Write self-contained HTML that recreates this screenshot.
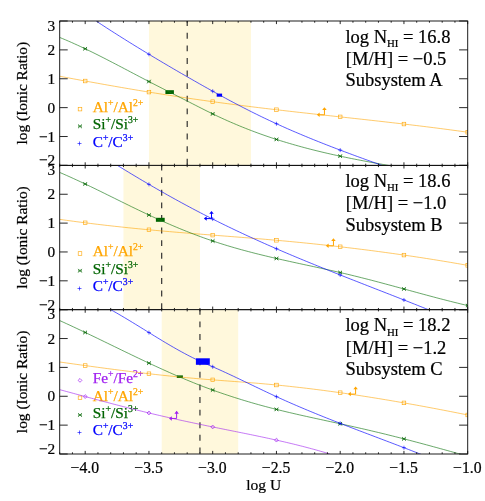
<!DOCTYPE html>
<html><head><meta charset="utf-8"><title>Ionic ratios</title>
<style>html,body{margin:0;padding:0;background:#fff;}svg{display:block;will-change:transform;}text{paint-order:stroke fill;}body{font-family:"Liberation Serif",serif;}</style></head>
<body>
<svg width="485" height="501" viewBox="0 0 485 501" font-family="'Liberation Serif', serif">
<rect width="485" height="501" fill="#ffffff"/>
<defs>
<clipPath id="cp0"><rect x="59.7" y="21.0" width="408.0" height="144.4"/></clipPath>
<clipPath id="cp1"><rect x="59.7" y="165.4" width="408.0" height="144.27"/></clipPath>
<clipPath id="cp2"><rect x="59.7" y="309.67" width="408.0" height="144.32999999999998"/></clipPath>
</defs>
<rect x="148.95" y="21.00" width="102.00" height="144.40" fill="#fff8dc"/>
<line x1="187.20" y1="21.00" x2="187.20" y2="165.40" stroke="#262626" stroke-width="1.12" stroke-dasharray="5.9 6.7" stroke-dashoffset="0.8"/>
<rect x="78.20" y="107.30" width="3.60" height="3.60" fill="none" stroke="#ffa500" stroke-width="0.62"/>
<text x="92.7" y="112.00" font-size="15.3" fill="#ffa500" stroke="#ffa500" stroke-width="0.25">Al<tspan font-size="9.7" dy="-6.1">+</tspan><tspan dy="6.1">/Al</tspan><tspan font-size="9.7" dy="-6.1">2+</tspan></text>
<path d="M78.20 124.50L81.80 128.10L81.80 124.50L78.20 128.10Z" fill="#006400" fill-opacity="0.55" stroke="none"/><path d="M78.20 124.50L81.80 128.10M81.80 124.50L78.20 128.10" stroke="#006400" stroke-width="0.7" fill="none"/>
<text x="92.7" y="129.40" font-size="15.3" fill="#006400" stroke="#006400" stroke-width="0.25">Si<tspan font-size="9.7" dy="-6.1">+</tspan><tspan dy="6.1">/Si</tspan><tspan font-size="9.7" dy="-6.1">3+</tspan></text>
<path d="M77.50 143.50L81.50 143.50M79.50 141.50L79.50 145.50" stroke="#0000ff" stroke-width="0.6" fill="none"/>
<text x="92.7" y="146.70" font-size="15.3" fill="#0000ff" stroke="#0000ff" stroke-width="0.25">C<tspan font-size="9.7" dy="-6.1">+</tspan><tspan dy="6.1">/C</tspan><tspan font-size="9.7" dy="-6.1">3+</tspan></text>
<rect x="165.40" y="90.20" width="8.50" height="3.80" fill="#006400"/>
<rect x="216.70" y="93.60" width="5.40" height="3.10" fill="#0000ff"/>
<g clip-path="url(#cp0)">
<path d="M59.70 76.26L63.13 76.91L66.56 77.56L69.99 78.20L73.41 78.84L76.84 79.47L80.27 80.11L83.70 80.74L87.13 81.37L90.56 81.99L93.99 82.61L97.41 83.23L100.84 83.85L104.27 84.46L107.70 85.07L111.13 85.67L114.56 86.27L117.99 86.87L121.41 87.46L124.84 88.05L128.27 88.64L131.70 89.22L135.13 89.80L138.56 90.38L141.99 90.95L145.41 91.51L148.84 92.07L152.27 92.63L155.70 93.18L159.13 93.73L162.56 94.28L165.99 94.82L169.41 95.35L172.84 95.88L176.27 96.41L179.70 96.93L183.13 97.44L186.56 97.95L189.99 98.46L193.41 98.96L196.84 99.46L200.27 99.95L203.70 100.43L207.13 100.91L210.56 101.39L213.99 101.86L217.41 102.33L220.84 102.79L224.27 103.25L227.70 103.70L231.13 104.15L234.56 104.60L237.99 105.04L241.41 105.48L244.84 105.91L248.27 106.34L251.70 106.77L255.13 107.19L258.56 107.61L261.99 108.03L265.41 108.44L268.84 108.85L272.27 109.25L275.70 109.66L279.13 110.06L282.56 110.45L285.99 110.85L289.41 111.24L292.84 111.63L296.27 112.02L299.70 112.41L303.13 112.79L306.56 113.17L309.99 113.56L313.41 113.94L316.84 114.31L320.27 114.69L323.70 115.07L327.13 115.45L330.56 115.82L333.99 116.20L337.41 116.58L340.84 116.95L344.27 117.33L347.70 117.70L351.13 118.08L354.56 118.46L357.99 118.83L361.41 119.21L364.84 119.59L368.27 119.97L371.70 120.36L375.13 120.74L378.56 121.13L381.99 121.51L385.41 121.90L388.84 122.30L392.27 122.69L395.70 123.09L399.13 123.48L402.56 123.89L405.99 124.29L409.41 124.70L412.84 125.11L416.27 125.52L419.70 125.94L423.13 126.36L426.56 126.79L429.99 127.22L433.41 127.65L436.84 128.09L440.27 128.53L443.70 128.98L447.13 129.43L450.56 129.88L453.99 130.35L457.41 130.81L460.84 131.28L464.27 131.76L467.70 132.24" fill="none" stroke="#ffa500" stroke-width="0.58"/>
<rect x="83.40" y="79.21" width="3.60" height="3.60" fill="none" stroke="#ffa500" stroke-width="0.62"/>
<rect x="147.15" y="90.29" width="3.60" height="3.60" fill="none" stroke="#ffa500" stroke-width="0.62"/>
<rect x="210.90" y="99.88" width="3.60" height="3.60" fill="none" stroke="#ffa500" stroke-width="0.62"/>
<rect x="274.65" y="107.94" width="3.60" height="3.60" fill="none" stroke="#ffa500" stroke-width="0.62"/>
<rect x="338.40" y="115.08" width="3.60" height="3.60" fill="none" stroke="#ffa500" stroke-width="0.62"/>
<rect x="402.15" y="122.25" width="3.60" height="3.60" fill="none" stroke="#ffa500" stroke-width="0.62"/>
<rect x="465.90" y="130.44" width="3.60" height="3.60" fill="none" stroke="#ffa500" stroke-width="0.62"/>
<path d="M59.70 37.44L62.65 38.65L65.59 39.89L68.54 41.16L71.49 42.45L74.43 43.77L77.38 45.12L80.33 46.48L83.27 47.87L86.22 49.27L89.16 50.69L92.11 52.13L95.06 53.59L98.00 55.06L100.95 56.55L103.90 58.04L106.84 59.55L109.79 61.07L112.74 62.60L115.68 64.13L118.63 65.67L121.58 67.21L124.52 68.76L127.47 70.31L130.41 71.86L133.36 73.41L136.31 74.96L139.25 76.51L142.20 78.05L145.15 79.58L148.09 81.11L151.04 82.64L153.99 84.15L156.93 85.66L159.88 87.17L162.82 88.67L165.77 90.16L168.72 91.66L171.66 93.15L174.61 94.64L177.56 96.13L180.50 97.63L183.45 99.13L186.40 100.63L189.34 102.13L192.29 103.64L195.24 105.15L198.18 106.65L201.13 108.15L204.07 109.64L207.02 111.11L209.97 112.56L212.91 114.00L215.86 115.41L218.81 116.80L221.75 118.16L224.70 119.50L227.65 120.82L230.59 122.11L233.54 123.39L236.49 124.64L239.43 125.86L242.38 127.07L245.33 128.25L248.27 129.41L251.22 130.55L254.16 131.66L257.11 132.76L260.06 133.83L263.00 134.88L265.95 135.91L268.90 136.92L271.84 137.91L274.79 138.88L277.74 139.83L280.68 140.77L283.63 141.68L286.57 142.57L289.52 143.45L292.47 144.31L295.41 145.15L298.36 145.98L301.31 146.79L304.25 147.58L307.20 148.36L310.15 149.13L313.09 149.88L316.04 150.61L318.99 151.34L321.93 152.05L324.88 152.74L327.82 153.43L330.77 154.10L333.72 154.76L336.66 155.41L339.61 156.04L342.56 156.67L345.50 157.29L348.45 157.90L351.40 158.50L354.34 159.09L357.29 159.67L360.24 160.24L363.18 160.81L366.13 161.37L369.07 161.92L372.02 162.47L374.97 163.01L377.91 163.54L380.86 164.07L383.81 164.60L386.75 165.12L389.70 165.64L392.65 166.15L395.59 166.66L398.54 167.17L401.49 167.67L404.43 168.18L407.38 168.68L410.32 169.18" fill="none" stroke="#1a7a1a" stroke-width="0.65"/>
<path d="M83.40 46.98L87.00 50.58L87.00 46.98L83.40 50.58Z" fill="#006400" fill-opacity="0.55" stroke="none"/><path d="M83.40 46.98L87.00 50.58M87.00 46.98L83.40 50.58" stroke="#006400" stroke-width="0.7" fill="none"/>
<path d="M147.15 79.76L150.75 83.36L150.75 79.76L147.15 83.36Z" fill="#006400" fill-opacity="0.55" stroke="none"/><path d="M147.15 79.76L150.75 83.36M150.75 79.76L147.15 83.36" stroke="#006400" stroke-width="0.7" fill="none"/>
<path d="M210.90 112.09L214.50 115.69L214.50 112.09L210.90 115.69Z" fill="#006400" fill-opacity="0.55" stroke="none"/><path d="M210.90 112.09L214.50 115.69M214.50 112.09L210.90 115.69" stroke="#006400" stroke-width="0.7" fill="none"/>
<path d="M274.65 137.62L278.25 141.22L278.25 137.62L274.65 141.22Z" fill="#006400" fill-opacity="0.55" stroke="none"/><path d="M274.65 137.62L278.25 141.22M278.25 137.62L274.65 141.22" stroke="#006400" stroke-width="0.7" fill="none"/>
<path d="M338.40 154.37L342.00 157.97L342.00 154.37L338.40 157.97Z" fill="#006400" fill-opacity="0.55" stroke="none"/><path d="M338.40 154.37L342.00 157.97M342.00 154.37L338.40 157.97" stroke="#006400" stroke-width="0.7" fill="none"/>
<path d="M96.17 21.04L98.75 22.74L101.34 24.44L103.92 26.12L106.51 27.80L109.10 29.47L111.68 31.13L114.27 32.78L116.86 34.43L119.44 36.07L122.03 37.70L124.62 39.32L127.20 40.94L129.79 42.55L132.38 44.15L134.96 45.75L137.55 47.34L140.13 48.92L142.72 50.50L145.31 52.07L147.89 53.64L150.48 55.20L153.07 56.75L155.65 58.30L158.24 59.84L160.83 61.38L163.41 62.91L166.00 64.44L168.59 65.96L171.17 67.47L173.76 68.99L176.34 70.49L178.93 72.00L181.52 73.50L184.10 74.99L186.69 76.48L189.28 77.97L191.86 79.45L194.45 80.93L197.04 82.40L199.62 83.87L202.21 85.34L204.79 86.79L207.38 88.24L209.97 89.69L212.55 91.13L215.14 92.56L217.73 93.99L220.31 95.40L222.90 96.81L225.49 98.21L228.07 99.61L230.66 100.99L233.25 102.36L235.83 103.73L238.42 105.09L241.00 106.43L243.59 107.77L246.18 109.09L248.76 110.41L251.35 111.71L253.94 113.00L256.52 114.28L259.11 115.55L261.70 116.81L264.28 118.05L266.87 119.28L269.46 120.50L272.04 121.71L274.63 122.90L277.21 124.09L279.80 125.26L282.39 126.42L284.97 127.57L287.56 128.72L290.15 129.85L292.73 130.97L295.32 132.08L297.91 133.18L300.49 134.28L303.08 135.36L305.67 136.44L308.25 137.51L310.84 138.57L313.43 139.62L316.01 140.66L318.60 141.70L321.18 142.73L323.77 143.75L326.36 144.77L328.94 145.77L331.53 146.78L334.12 147.77L336.70 148.76L339.29 149.75L341.88 150.73L344.46 151.70L347.05 152.67L349.63 153.63L352.22 154.59L354.81 155.55L357.39 156.50L359.98 157.45L362.57 158.39L365.15 159.33L367.74 160.27L370.33 161.20L372.91 162.13L375.50 163.06L378.09 163.99L380.67 164.91L383.26 165.84L385.84 166.76L388.43 167.68L391.02 168.60L393.60 169.52L396.19 170.43L398.78 171.35L401.36 172.27L403.95 173.19" fill="none" stroke="#0000ff" stroke-width="0.65"/>
<path d="M146.95 54.27L150.95 54.27M148.95 52.27L148.95 56.27" stroke="#0000ff" stroke-width="0.6" fill="none"/>
<path d="M210.70 91.21L214.70 91.21M212.70 89.21L212.70 93.21" stroke="#0000ff" stroke-width="0.6" fill="none"/>
<path d="M274.45 123.74L278.45 123.74M276.45 121.74L276.45 125.74" stroke="#0000ff" stroke-width="0.6" fill="none"/>
<path d="M338.20 150.09L342.20 150.09M340.20 148.09L340.20 152.09" stroke="#0000ff" stroke-width="0.6" fill="none"/>
</g>
<path d="M317.85 114.85L324.45 114.85L324.45 108.25" stroke="#ffa500" stroke-width="1.0" fill="none"/><path d="M316.85 114.85L319.65 112.60L319.65 117.10Z" fill="#ffa500"/><path d="M324.45 107.25L322.20 110.05L326.70 110.05Z" fill="#ffa500"/>
<rect x="59.70" y="21.00" width="408.00" height="144.40" fill="none" stroke="#111111" stroke-width="0.95"/>
<path d="M59.70 21.00v1.7M59.70 165.40v-1.7M72.45 21.00v1.7M72.45 165.40v-1.7M85.20 21.00v3.1M85.20 165.40v-3.1M97.95 21.00v1.7M97.95 165.40v-1.7M110.70 21.00v1.7M110.70 165.40v-1.7M123.45 21.00v1.7M123.45 165.40v-1.7M136.20 21.00v1.7M136.20 165.40v-1.7M148.95 21.00v3.1M148.95 165.40v-3.1M161.70 21.00v1.7M161.70 165.40v-1.7M174.45 21.00v1.7M174.45 165.40v-1.7M187.20 21.00v1.7M187.20 165.40v-1.7M199.95 21.00v1.7M199.95 165.40v-1.7M212.70 21.00v3.1M212.70 165.40v-3.1M225.45 21.00v1.7M225.45 165.40v-1.7M238.20 21.00v1.7M238.20 165.40v-1.7M250.95 21.00v1.7M250.95 165.40v-1.7M263.70 21.00v1.7M263.70 165.40v-1.7M276.45 21.00v3.1M276.45 165.40v-3.1M289.20 21.00v1.7M289.20 165.40v-1.7M301.95 21.00v1.7M301.95 165.40v-1.7M314.70 21.00v1.7M314.70 165.40v-1.7M327.45 21.00v1.7M327.45 165.40v-1.7M340.20 21.00v3.1M340.20 165.40v-3.1M352.95 21.00v1.7M352.95 165.40v-1.7M365.70 21.00v1.7M365.70 165.40v-1.7M378.45 21.00v1.7M378.45 165.40v-1.7M391.20 21.00v1.7M391.20 165.40v-1.7M403.95 21.00v3.1M403.95 165.40v-3.1M416.70 21.00v1.7M416.70 165.40v-1.7M429.45 21.00v1.7M429.45 165.40v-1.7M442.20 21.00v1.7M442.20 165.40v-1.7M454.95 21.00v1.7M454.95 165.40v-1.7M467.70 21.00v3.1M467.70 165.40v-3.1M59.70 165.40h8.0M467.70 165.40h-8.6M59.70 136.52h8.0M467.70 136.52h-8.6M59.70 107.64h8.0M467.70 107.64h-8.6M59.70 78.76h8.0M467.70 78.76h-8.6M59.70 49.88h8.0M467.70 49.88h-8.6M59.70 21.00h8.0M467.70 21.00h-8.6" stroke="#111111" stroke-width="0.9" fill="none"/>
<text x="55.2" y="165.30" font-size="15.3" text-anchor="end" fill="#000" stroke="#000" stroke-width="0.22">−2</text>
<text x="55.2" y="141.52" font-size="15.3" text-anchor="end" fill="#000" stroke="#000" stroke-width="0.22">−1</text>
<text x="55.2" y="112.64" font-size="15.3" text-anchor="end" fill="#000" stroke="#000" stroke-width="0.22">0</text>
<text x="55.2" y="83.76" font-size="15.3" text-anchor="end" fill="#000" stroke="#000" stroke-width="0.22">1</text>
<text x="55.2" y="54.88" font-size="15.3" text-anchor="end" fill="#000" stroke="#000" stroke-width="0.22">2</text>
<text x="55.2" y="30.70" font-size="15.3" text-anchor="end" fill="#000" stroke="#000" stroke-width="0.22">3</text>
<text transform="translate(27 93.20) rotate(-90)" font-size="15.4" text-anchor="middle" fill="#000" stroke="#000" stroke-width="0.22">log (Ionic Ratio)</text>
<text x="345.4" y="42.80" font-size="18.5" fill="#000" stroke="#000" stroke-width="0.22">log N<tspan font-size="10.8" dy="4.2">HI</tspan><tspan dy="-4.2"> = 16.8</tspan></text>
<text x="345.8" y="64.90" font-size="18.5" fill="#000" stroke="#000" stroke-width="0.22">[M/H] = −0.5</text>
<text x="345.4" y="86.10" font-size="18.5" fill="#000" stroke="#000" stroke-width="0.22">Subsystem A</text>
<rect x="123.45" y="165.40" width="76.50" height="144.27" fill="#fff8dc"/>
<line x1="161.70" y1="165.40" x2="161.70" y2="309.67" stroke="#262626" stroke-width="1.12" stroke-dasharray="5.9 6.7" stroke-dashoffset="0.8"/>
<rect x="78.20" y="251.70" width="3.60" height="3.60" fill="none" stroke="#ffa500" stroke-width="0.62"/>
<text x="92.7" y="256.40" font-size="15.3" fill="#ffa500" stroke="#ffa500" stroke-width="0.25">Al<tspan font-size="9.7" dy="-6.1">+</tspan><tspan dy="6.1">/Al</tspan><tspan font-size="9.7" dy="-6.1">2+</tspan></text>
<path d="M78.20 268.90L81.80 272.50L81.80 268.90L78.20 272.50Z" fill="#006400" fill-opacity="0.55" stroke="none"/><path d="M78.20 268.90L81.80 272.50M81.80 268.90L78.20 272.50" stroke="#006400" stroke-width="0.7" fill="none"/>
<text x="92.7" y="273.80" font-size="15.3" fill="#006400" stroke="#006400" stroke-width="0.25">Si<tspan font-size="9.7" dy="-6.1">+</tspan><tspan dy="6.1">/Si</tspan><tspan font-size="9.7" dy="-6.1">3+</tspan></text>
<path d="M77.50 288.50L81.50 288.50M79.50 286.50L79.50 290.50" stroke="#0000ff" stroke-width="0.6" fill="none"/>
<text x="92.7" y="291.10" font-size="15.3" fill="#0000ff" stroke="#0000ff" stroke-width="0.25">C<tspan font-size="9.7" dy="-6.1">+</tspan><tspan dy="6.1">/C</tspan><tspan font-size="9.7" dy="-6.1">3+</tspan></text>
<rect x="155.90" y="217.80" width="8.80" height="4.00" fill="#006400"/>
<g clip-path="url(#cp1)">
<path d="M59.70 219.37L63.13 219.86L66.56 220.33L69.99 220.80L73.41 221.26L76.84 221.72L80.27 222.16L83.70 222.60L87.13 223.04L90.56 223.46L93.99 223.88L97.41 224.30L100.84 224.70L104.27 225.11L107.70 225.50L111.13 225.89L114.56 226.27L117.99 226.64L121.41 227.01L124.84 227.38L128.27 227.74L131.70 228.09L135.13 228.44L138.56 228.78L141.99 229.11L145.41 229.45L148.84 229.77L152.27 230.09L155.70 230.41L159.13 230.72L162.56 231.03L165.99 231.33L169.41 231.62L172.84 231.92L176.27 232.21L179.70 232.49L183.13 232.78L186.56 233.05L189.99 233.33L193.41 233.61L196.84 233.88L200.27 234.15L203.70 234.42L207.13 234.69L210.56 234.95L213.99 235.22L217.41 235.49L220.84 235.75L224.27 236.02L227.70 236.28L231.13 236.55L234.56 236.82L237.99 237.09L241.41 237.36L244.84 237.63L248.27 237.90L251.70 238.18L255.13 238.46L258.56 238.74L261.99 239.03L265.41 239.32L268.84 239.61L272.27 239.91L275.70 240.21L279.13 240.52L282.56 240.83L285.99 241.14L289.41 241.46L292.84 241.79L296.27 242.12L299.70 242.45L303.13 242.79L306.56 243.13L309.99 243.48L313.41 243.84L316.84 244.20L320.27 244.56L323.70 244.93L327.13 245.30L330.56 245.68L333.99 246.07L337.41 246.46L340.84 246.85L344.27 247.25L347.70 247.66L351.13 248.07L354.56 248.48L357.99 248.91L361.41 249.33L364.84 249.76L368.27 250.20L371.70 250.64L375.13 251.09L378.56 251.55L381.99 252.00L385.41 252.47L388.84 252.94L392.27 253.42L395.70 253.90L399.13 254.38L402.56 254.88L405.99 255.38L409.41 255.88L412.84 256.39L416.27 256.91L419.70 257.43L423.13 257.95L426.56 258.49L429.99 259.03L433.41 259.57L436.84 260.12L440.27 260.68L443.70 261.24L447.13 261.81L450.56 262.39L453.99 262.97L457.41 263.56L460.84 264.15L464.27 264.75L467.70 265.36" fill="none" stroke="#ffa500" stroke-width="0.58"/>
<rect x="83.40" y="220.99" width="3.60" height="3.60" fill="none" stroke="#ffa500" stroke-width="0.62"/>
<rect x="147.15" y="227.98" width="3.60" height="3.60" fill="none" stroke="#ffa500" stroke-width="0.62"/>
<rect x="210.90" y="233.32" width="3.60" height="3.60" fill="none" stroke="#ffa500" stroke-width="0.62"/>
<rect x="274.65" y="238.48" width="3.60" height="3.60" fill="none" stroke="#ffa500" stroke-width="0.62"/>
<rect x="338.40" y="244.98" width="3.60" height="3.60" fill="none" stroke="#ffa500" stroke-width="0.62"/>
<rect x="402.15" y="253.28" width="3.60" height="3.60" fill="none" stroke="#ffa500" stroke-width="0.62"/>
<rect x="465.90" y="263.56" width="3.60" height="3.60" fill="none" stroke="#ffa500" stroke-width="0.62"/>
<path d="M59.70 172.45L63.13 173.92L66.56 175.42L69.99 176.95L73.41 178.50L76.84 180.08L80.27 181.67L83.70 183.28L87.13 184.91L90.56 186.56L93.99 188.21L97.41 189.88L100.84 191.56L104.27 193.25L107.70 194.94L111.13 196.63L114.56 198.32L117.99 200.02L121.41 201.71L124.84 203.40L128.27 205.09L131.70 206.77L135.13 208.43L138.56 210.09L141.99 211.73L145.41 213.36L148.84 214.97L152.27 216.57L155.70 218.14L159.13 219.69L162.56 221.23L165.99 222.74L169.41 224.23L172.84 225.70L176.27 227.15L179.70 228.57L183.13 229.97L186.56 231.35L189.99 232.70L193.41 234.02L196.84 235.32L200.27 236.59L203.70 237.83L207.13 239.05L210.56 240.24L213.99 241.40L217.41 242.53L220.84 243.63L224.27 244.70L227.70 245.75L231.13 246.77L234.56 247.77L237.99 248.75L241.41 249.71L244.84 250.64L248.27 251.56L251.70 252.45L255.13 253.33L258.56 254.19L261.99 255.04L265.41 255.87L268.84 256.69L272.27 257.50L275.70 258.29L279.13 259.08L282.56 259.85L285.99 260.62L289.41 261.38L292.84 262.14L296.27 262.88L299.70 263.63L303.13 264.37L306.56 265.11L309.99 265.85L313.41 266.59L316.84 267.34L320.27 268.08L323.70 268.83L327.13 269.59L330.56 270.35L333.99 271.12L337.41 271.90L340.84 272.69L344.27 273.50L347.70 274.31L351.13 275.14L354.56 275.97L357.99 276.82L361.41 277.68L364.84 278.55L368.27 279.42L371.70 280.31L375.13 281.21L378.56 282.11L381.99 283.02L385.41 283.94L388.84 284.86L392.27 285.79L395.70 286.72L399.13 287.65L402.56 288.59L405.99 289.53L409.41 290.46L412.84 291.40L416.27 292.33L419.70 293.27L423.13 294.19L426.56 295.12L429.99 296.04L433.41 296.95L436.84 297.86L440.27 298.75L443.70 299.64L447.13 300.52L450.56 301.39L453.99 302.25L457.41 303.09L460.84 303.93L464.27 304.74L467.70 305.55" fill="none" stroke="#1a7a1a" stroke-width="0.65"/>
<path d="M83.40 182.20L87.00 185.80L87.00 182.20L83.40 185.80Z" fill="#006400" fill-opacity="0.55" stroke="none"/><path d="M83.40 182.20L87.00 185.80M87.00 182.20L83.40 185.80" stroke="#006400" stroke-width="0.7" fill="none"/>
<path d="M147.15 213.22L150.75 216.82L150.75 213.22L147.15 216.82Z" fill="#006400" fill-opacity="0.55" stroke="none"/><path d="M147.15 213.22L150.75 216.82M150.75 213.22L147.15 216.82" stroke="#006400" stroke-width="0.7" fill="none"/>
<path d="M210.90 239.16L214.50 242.76L214.50 239.16L210.90 242.76Z" fill="#006400" fill-opacity="0.55" stroke="none"/><path d="M210.90 239.16L214.50 242.76M214.50 239.16L210.90 242.76" stroke="#006400" stroke-width="0.7" fill="none"/>
<path d="M274.65 256.67L278.25 260.27L278.25 256.67L274.65 260.27Z" fill="#006400" fill-opacity="0.55" stroke="none"/><path d="M274.65 256.67L278.25 260.27M278.25 256.67L274.65 260.27" stroke="#006400" stroke-width="0.7" fill="none"/>
<path d="M338.40 270.75L342.00 274.35L342.00 270.75L338.40 274.35Z" fill="#006400" fill-opacity="0.55" stroke="none"/><path d="M338.40 270.75L342.00 274.35M342.00 270.75L338.40 274.35" stroke="#006400" stroke-width="0.7" fill="none"/>
<path d="M402.15 287.17L405.75 290.77L405.75 287.17L402.15 290.77Z" fill="#006400" fill-opacity="0.55" stroke="none"/><path d="M402.15 287.17L405.75 290.77M405.75 287.17L402.15 290.77" stroke="#006400" stroke-width="0.7" fill="none"/>
<path d="M465.90 303.75L469.50 307.35L469.50 303.75L465.90 307.35Z" fill="#006400" fill-opacity="0.55" stroke="none"/><path d="M465.90 303.75L469.50 307.35M469.50 303.75L465.90 307.35" stroke="#006400" stroke-width="0.7" fill="none"/>
<path d="M97.95 153.13L100.73 154.90L103.50 156.66L106.28 158.42L109.06 160.17L111.84 161.91L114.61 163.64L117.39 165.37L120.17 167.08L122.94 168.79L125.72 170.49L128.50 172.18L131.28 173.86L134.05 175.53L136.83 177.20L139.61 178.85L142.38 180.50L145.16 182.14L147.94 183.76L150.72 185.38L153.49 186.99L156.27 188.59L159.05 190.19L161.82 191.77L164.60 193.34L167.38 194.91L170.16 196.46L172.93 198.00L175.71 199.54L178.49 201.07L181.26 202.58L184.04 204.09L186.82 205.58L189.60 207.07L192.37 208.55L195.15 210.02L197.93 211.47L200.70 212.92L203.48 214.36L206.26 215.78L209.04 217.20L211.81 218.61L214.59 220.00L217.37 221.39L220.14 222.76L222.92 224.13L225.70 225.49L228.48 226.83L231.25 228.17L234.03 229.50L236.81 230.82L239.58 232.13L242.36 233.43L245.14 234.72L247.92 236.00L250.69 237.28L253.47 238.55L256.25 239.81L259.02 241.06L261.80 242.30L264.58 243.54L267.36 244.77L270.13 245.99L272.91 247.20L275.69 248.41L278.46 249.61L281.24 250.81L284.02 252.00L286.80 253.18L289.57 254.36L292.35 255.53L295.13 256.69L297.90 257.85L300.68 259.00L303.46 260.15L306.24 261.30L309.01 262.44L311.79 263.57L314.57 264.70L317.34 265.83L320.12 266.95L322.90 268.07L325.68 269.19L328.45 270.30L331.23 271.41L334.01 272.52L336.78 273.62L339.56 274.72L342.34 275.82L345.12 276.92L347.89 278.01L350.67 279.10L353.45 280.19L356.22 281.28L359.00 282.37L361.78 283.46L364.56 284.54L367.33 285.63L370.11 286.71L372.89 287.80L375.66 288.88L378.44 289.97L381.22 291.05L384.00 292.14L386.77 293.22L389.55 294.31L392.33 295.40L395.10 296.48L397.88 297.57L400.66 298.66L403.44 299.76L406.21 300.85L408.99 301.95L411.77 303.05L414.54 304.15L417.32 305.25L420.10 306.36L422.88 307.47L425.65 308.58L428.43 309.70" fill="none" stroke="#0000ff" stroke-width="0.65"/>
<path d="M146.95 184.36L150.95 184.36M148.95 182.36L148.95 186.36" stroke="#0000ff" stroke-width="0.6" fill="none"/>
<path d="M210.70 219.05L214.70 219.05M212.70 217.05L212.70 221.05" stroke="#0000ff" stroke-width="0.6" fill="none"/>
<path d="M274.45 248.74L278.45 248.74M276.45 246.74L276.45 250.74" stroke="#0000ff" stroke-width="0.6" fill="none"/>
<path d="M338.20 274.98L342.20 274.98M340.20 272.98L340.20 276.98" stroke="#0000ff" stroke-width="0.6" fill="none"/>
<path d="M401.95 299.96L405.95 299.96M403.95 297.96L403.95 301.96" stroke="#0000ff" stroke-width="0.6" fill="none"/>
</g>
<path d="M204.90 218.60L211.50 218.60L211.50 212.00" stroke="#0000ff" stroke-width="1.0" fill="none"/><path d="M203.90 218.60L206.70 216.35L206.70 220.85Z" fill="#0000ff"/><path d="M211.50 211.00L209.25 213.80L213.75 213.80Z" fill="#0000ff"/>
<path d="M326.85 245.85L333.45 245.85L333.45 239.25" stroke="#ffa500" stroke-width="1.0" fill="none"/><path d="M325.85 245.85L328.65 243.60L328.65 248.10Z" fill="#ffa500"/><path d="M333.45 238.25L331.20 241.05L335.70 241.05Z" fill="#ffa500"/>
<rect x="59.70" y="165.40" width="408.00" height="144.27" fill="none" stroke="#111111" stroke-width="0.95"/>
<path d="M59.70 165.40v1.7M59.70 309.67v-1.7M72.45 165.40v1.7M72.45 309.67v-1.7M85.20 165.40v3.1M85.20 309.67v-3.1M97.95 165.40v1.7M97.95 309.67v-1.7M110.70 165.40v1.7M110.70 309.67v-1.7M123.45 165.40v1.7M123.45 309.67v-1.7M136.20 165.40v1.7M136.20 309.67v-1.7M148.95 165.40v3.1M148.95 309.67v-3.1M161.70 165.40v1.7M161.70 309.67v-1.7M174.45 165.40v1.7M174.45 309.67v-1.7M187.20 165.40v1.7M187.20 309.67v-1.7M199.95 165.40v1.7M199.95 309.67v-1.7M212.70 165.40v3.1M212.70 309.67v-3.1M225.45 165.40v1.7M225.45 309.67v-1.7M238.20 165.40v1.7M238.20 309.67v-1.7M250.95 165.40v1.7M250.95 309.67v-1.7M263.70 165.40v1.7M263.70 309.67v-1.7M276.45 165.40v3.1M276.45 309.67v-3.1M289.20 165.40v1.7M289.20 309.67v-1.7M301.95 165.40v1.7M301.95 309.67v-1.7M314.70 165.40v1.7M314.70 309.67v-1.7M327.45 165.40v1.7M327.45 309.67v-1.7M340.20 165.40v3.1M340.20 309.67v-3.1M352.95 165.40v1.7M352.95 309.67v-1.7M365.70 165.40v1.7M365.70 309.67v-1.7M378.45 165.40v1.7M378.45 309.67v-1.7M391.20 165.40v1.7M391.20 309.67v-1.7M403.95 165.40v3.1M403.95 309.67v-3.1M416.70 165.40v1.7M416.70 309.67v-1.7M429.45 165.40v1.7M429.45 309.67v-1.7M442.20 165.40v1.7M442.20 309.67v-1.7M454.95 165.40v1.7M454.95 309.67v-1.7M467.70 165.40v3.1M467.70 309.67v-3.1M59.70 309.67h8.0M467.70 309.67h-8.6M59.70 280.82h8.0M467.70 280.82h-8.6M59.70 251.96h8.0M467.70 251.96h-8.6M59.70 223.11h8.0M467.70 223.11h-8.6M59.70 194.25h8.0M467.70 194.25h-8.6M59.70 165.40h8.0M467.70 165.40h-8.6" stroke="#111111" stroke-width="0.9" fill="none"/>
<text x="55.2" y="309.57" font-size="15.3" text-anchor="end" fill="#000" stroke="#000" stroke-width="0.22">−2</text>
<text x="55.2" y="285.82" font-size="15.3" text-anchor="end" fill="#000" stroke="#000" stroke-width="0.22">−1</text>
<text x="55.2" y="256.96" font-size="15.3" text-anchor="end" fill="#000" stroke="#000" stroke-width="0.22">0</text>
<text x="55.2" y="228.11" font-size="15.3" text-anchor="end" fill="#000" stroke="#000" stroke-width="0.22">1</text>
<text x="55.2" y="199.25" font-size="15.3" text-anchor="end" fill="#000" stroke="#000" stroke-width="0.22">2</text>
<text x="55.2" y="175.10" font-size="15.3" text-anchor="end" fill="#000" stroke="#000" stroke-width="0.22">3</text>
<text transform="translate(27 237.54) rotate(-90)" font-size="15.4" text-anchor="middle" fill="#000" stroke="#000" stroke-width="0.22">log (Ionic Ratio)</text>
<text x="345.4" y="187.20" font-size="18.5" fill="#000" stroke="#000" stroke-width="0.22">log N<tspan font-size="10.8" dy="4.2">HI</tspan><tspan dy="-4.2"> = 18.6</tspan></text>
<text x="345.8" y="209.30" font-size="18.5" fill="#000" stroke="#000" stroke-width="0.22">[M/H] = −1.0</text>
<text x="345.4" y="230.50" font-size="18.5" fill="#000" stroke="#000" stroke-width="0.22">Subsystem B</text>
<rect x="161.70" y="309.67" width="76.50" height="144.33" fill="#fff8dc"/>
<line x1="199.95" y1="309.67" x2="199.95" y2="454.00" stroke="#262626" stroke-width="1.12" stroke-dasharray="5.9 6.7" stroke-dashoffset="0.8"/>
<path d="M78.10 380.37L80.00 378.47L81.90 380.37L80.00 382.27Z" stroke="#a020f0" stroke-width="0.7" fill="none"/>
<text x="92.7" y="382.97" font-size="15.3" fill="#a020f0" stroke="#a020f0" stroke-width="0.25">Fe<tspan font-size="9.7" dy="-6.1">+</tspan><tspan dy="6.1">/Fe</tspan><tspan font-size="9.7" dy="-6.1">2+</tspan></text>
<rect x="78.20" y="395.97" width="3.60" height="3.60" fill="none" stroke="#ffa500" stroke-width="0.62"/>
<text x="92.7" y="400.67" font-size="15.3" fill="#ffa500" stroke="#ffa500" stroke-width="0.25">Al<tspan font-size="9.7" dy="-6.1">+</tspan><tspan dy="6.1">/Al</tspan><tspan font-size="9.7" dy="-6.1">2+</tspan></text>
<path d="M78.20 413.17L81.80 416.77L81.80 413.17L78.20 416.77Z" fill="#006400" fill-opacity="0.55" stroke="none"/><path d="M78.20 413.17L81.80 416.77M81.80 413.17L78.20 416.77" stroke="#006400" stroke-width="0.7" fill="none"/>
<text x="92.7" y="418.07" font-size="15.3" fill="#006400" stroke="#006400" stroke-width="0.25">Si<tspan font-size="9.7" dy="-6.1">+</tspan><tspan dy="6.1">/Si</tspan><tspan font-size="9.7" dy="-6.1">3+</tspan></text>
<path d="M77.50 432.50L81.50 432.50M79.50 430.50L79.50 434.50" stroke="#0000ff" stroke-width="0.6" fill="none"/>
<text x="92.7" y="435.37" font-size="15.3" fill="#0000ff" stroke="#0000ff" stroke-width="0.25">C<tspan font-size="9.7" dy="-6.1">+</tspan><tspan dy="6.1">/C</tspan><tspan font-size="9.7" dy="-6.1">3+</tspan></text>
<rect x="176.80" y="375.40" width="6.10" height="2.60" fill="#006400"/>
<rect x="195.90" y="358.30" width="13.90" height="6.50" fill="#0000ff"/>
<g clip-path="url(#cp2)">
<path d="M59.70 389.66L61.97 390.28L64.24 390.89L66.51 391.50L68.78 392.12L71.05 392.73L73.32 393.35L75.59 393.96L77.85 394.57L80.12 395.19L82.39 395.80L84.66 396.41L86.93 397.02L89.20 397.63L91.47 398.24L93.74 398.85L96.01 399.46L98.28 400.06L100.55 400.66L102.82 401.27L105.09 401.87L107.36 402.47L109.62 403.06L111.89 403.66L114.16 404.25L116.43 404.84L118.70 405.43L120.97 406.01L123.24 406.59L125.51 407.17L127.78 407.75L130.05 408.33L132.32 408.90L134.59 409.46L136.86 410.03L139.12 410.59L141.39 411.15L143.66 411.70L145.93 412.25L148.20 412.80L150.47 413.34L152.74 413.88L155.01 414.42L157.28 414.95L159.55 415.47L161.82 416.00L164.09 416.52L166.36 417.04L168.63 417.55L170.90 418.06L173.16 418.57L175.43 419.07L177.70 419.57L179.97 420.07L182.24 420.56L184.51 421.05L186.78 421.54L189.05 422.03L191.32 422.51L193.59 422.99L195.86 423.47L198.13 423.95L200.40 424.42L202.67 424.89L204.93 425.36L207.20 425.83L209.47 426.30L211.74 426.76L214.01 427.22L216.28 427.68L218.55 428.14L220.82 428.60L223.09 429.06L225.36 429.51L227.63 429.97L229.90 430.42L232.17 430.88L234.44 431.33L236.70 431.79L238.97 432.25L241.24 432.71L243.51 433.16L245.78 433.63L248.05 434.09L250.32 434.55L252.59 435.02L254.86 435.49L257.13 435.96L259.40 436.44L261.67 436.91L263.94 437.39L266.21 437.88L268.47 438.37L270.74 438.86L273.01 439.36L275.28 439.86L277.55 440.37L279.82 440.88L282.09 441.40L284.36 441.92L286.63 442.45L288.90 442.99L291.17 443.53L293.44 444.08L295.71 444.64L297.98 445.20L300.24 445.77L302.51 446.34L304.78 446.93L307.05 447.52L309.32 448.13L311.59 448.74L313.86 449.35L316.13 449.98L318.40 450.62L320.67 451.27L322.94 451.92L325.21 452.59L327.48 453.27L329.75 453.95" fill="none" stroke="#a020f0" stroke-width="0.6"/>
<path d="M83.30 396.56L85.20 394.66L87.10 396.56L85.20 398.46Z" stroke="#a020f0" stroke-width="0.7" fill="none"/>
<path d="M147.05 412.98L148.95 411.08L150.85 412.98L148.95 414.88Z" stroke="#a020f0" stroke-width="0.7" fill="none"/>
<path d="M210.80 426.96L212.70 425.06L214.60 426.96L212.70 428.86Z" stroke="#a020f0" stroke-width="0.7" fill="none"/>
<path d="M274.55 440.12L276.45 438.22L278.35 440.12L276.45 442.02Z" stroke="#a020f0" stroke-width="0.7" fill="none"/>
<path d="M59.70 362.00L63.13 362.48L66.56 362.97L69.99 363.45L73.41 363.93L76.84 364.41L80.27 364.89L83.70 365.37L87.13 365.84L90.56 366.31L93.99 366.78L97.41 367.24L100.84 367.70L104.27 368.16L107.70 368.61L111.13 369.06L114.56 369.51L117.99 369.95L121.41 370.39L124.84 370.83L128.27 371.25L131.70 371.68L135.13 372.10L138.56 372.51L141.99 372.92L145.41 373.32L148.84 373.72L152.27 374.11L155.70 374.50L159.13 374.88L162.56 375.25L165.99 375.62L169.41 375.98L172.84 376.33L176.27 376.68L179.70 377.01L183.13 377.35L186.56 377.67L189.99 377.98L193.41 378.29L196.84 378.59L200.27 378.88L203.70 379.16L207.13 379.44L210.56 379.71L213.99 379.97L217.41 380.23L220.84 380.49L224.27 380.74L227.70 380.99L231.13 381.24L234.56 381.50L237.99 381.75L241.41 382.01L244.84 382.27L248.27 382.53L251.70 382.80L255.13 383.08L258.56 383.37L261.99 383.66L265.41 383.97L268.84 384.28L272.27 384.60L275.70 384.93L279.13 385.27L282.56 385.62L285.99 385.98L289.41 386.34L292.84 386.72L296.27 387.10L299.70 387.49L303.13 387.89L306.56 388.30L309.99 388.71L313.41 389.14L316.84 389.57L320.27 390.01L323.70 390.45L327.13 390.91L330.56 391.37L333.99 391.84L337.41 392.32L340.84 392.80L344.27 393.29L347.70 393.79L351.13 394.29L354.56 394.81L357.99 395.32L361.41 395.85L364.84 396.38L368.27 396.92L371.70 397.47L375.13 398.02L378.56 398.57L381.99 399.14L385.41 399.71L388.84 400.28L392.27 400.87L395.70 401.45L399.13 402.05L402.56 402.64L405.99 403.25L409.41 403.86L412.84 404.47L416.27 405.09L419.70 405.72L423.13 406.35L426.56 406.99L429.99 407.63L433.41 408.27L436.84 408.92L440.27 409.58L443.70 410.24L447.13 410.90L450.56 411.57L453.99 412.24L457.41 412.92L460.84 413.60L464.27 414.28L467.70 414.97" fill="none" stroke="#ffa500" stroke-width="0.58"/>
<rect x="83.40" y="363.77" width="3.60" height="3.60" fill="none" stroke="#ffa500" stroke-width="0.62"/>
<rect x="147.15" y="371.93" width="3.60" height="3.60" fill="none" stroke="#ffa500" stroke-width="0.62"/>
<rect x="210.90" y="378.07" width="3.60" height="3.60" fill="none" stroke="#ffa500" stroke-width="0.62"/>
<rect x="274.65" y="383.21" width="3.60" height="3.60" fill="none" stroke="#ffa500" stroke-width="0.62"/>
<rect x="338.40" y="390.91" width="3.60" height="3.60" fill="none" stroke="#ffa500" stroke-width="0.62"/>
<rect x="402.15" y="401.09" width="3.60" height="3.60" fill="none" stroke="#ffa500" stroke-width="0.62"/>
<rect x="465.90" y="413.17" width="3.60" height="3.60" fill="none" stroke="#ffa500" stroke-width="0.62"/>
<path d="M59.70 320.57L63.13 322.13L66.56 323.70L69.99 325.28L73.41 326.88L76.84 328.49L80.27 330.11L83.70 331.74L87.13 333.38L90.56 335.02L93.99 336.67L97.41 338.32L100.84 339.98L104.27 341.65L107.70 343.31L111.13 344.97L114.56 346.64L117.99 348.30L121.41 349.97L124.84 351.63L128.27 353.28L131.70 354.93L135.13 356.58L138.56 358.22L141.99 359.85L145.41 361.47L148.84 363.08L152.27 364.68L155.70 366.27L159.13 367.84L162.56 369.41L165.99 370.95L169.41 372.49L172.84 374.00L176.27 375.50L179.70 376.97L183.13 378.43L186.56 379.87L189.99 381.29L193.41 382.68L196.84 384.05L200.27 385.39L203.70 386.71L207.13 388.00L210.56 389.27L213.99 390.52L217.41 391.74L220.84 392.93L224.27 394.11L227.70 395.26L231.13 396.38L234.56 397.49L237.99 398.57L241.41 399.64L244.84 400.68L248.27 401.70L251.70 402.71L255.13 403.69L258.56 404.65L261.99 405.60L265.41 406.52L268.84 407.43L272.27 408.33L275.70 409.20L279.13 410.06L282.56 410.90L285.99 411.73L289.41 412.54L292.84 413.34L296.27 414.14L299.70 414.92L303.13 415.69L306.56 416.45L309.99 417.21L313.41 417.96L316.84 418.71L320.27 419.45L323.70 420.20L327.13 420.94L330.56 421.68L333.99 422.42L337.41 423.17L340.84 423.92L344.27 424.67L347.70 425.43L351.13 426.19L354.56 426.96L357.99 427.74L361.41 428.52L364.84 429.31L368.27 430.10L371.70 430.91L375.13 431.72L378.56 432.54L381.99 433.37L385.41 434.21L388.84 435.06L392.27 435.91L395.70 436.77L399.13 437.64L402.56 438.52L405.99 439.40L409.41 440.29L412.84 441.19L416.27 442.10L419.70 443.01L423.13 443.93L426.56 444.85L429.99 445.78L433.41 446.72L436.84 447.65L440.27 448.60L443.70 449.54L447.13 450.49L450.56 451.44L453.99 452.40L457.41 453.36L460.84 454.32L464.27 455.28L467.70 456.24" fill="none" stroke="#1a7a1a" stroke-width="0.65"/>
<path d="M83.40 330.66L87.00 334.26L87.00 330.66L83.40 334.26Z" fill="#006400" fill-opacity="0.55" stroke="none"/><path d="M83.40 330.66L87.00 334.26M87.00 330.66L83.40 334.26" stroke="#006400" stroke-width="0.7" fill="none"/>
<path d="M147.15 361.33L150.75 364.93L150.75 361.33L147.15 364.93Z" fill="#006400" fill-opacity="0.55" stroke="none"/><path d="M147.15 361.33L150.75 364.93M150.75 361.33L147.15 364.93" stroke="#006400" stroke-width="0.7" fill="none"/>
<path d="M210.90 388.25L214.50 391.85L214.50 388.25L210.90 391.85Z" fill="#006400" fill-opacity="0.55" stroke="none"/><path d="M210.90 388.25L214.50 391.85M214.50 388.25L210.90 391.85" stroke="#006400" stroke-width="0.7" fill="none"/>
<path d="M274.65 407.59L278.25 411.19L278.25 407.59L274.65 411.19Z" fill="#006400" fill-opacity="0.55" stroke="none"/><path d="M274.65 407.59L278.25 411.19M278.25 407.59L274.65 411.19" stroke="#006400" stroke-width="0.7" fill="none"/>
<path d="M338.40 421.98L342.00 425.58L342.00 421.98L338.40 425.58Z" fill="#006400" fill-opacity="0.55" stroke="none"/><path d="M338.40 421.98L342.00 425.58M342.00 421.98L338.40 425.58" stroke="#006400" stroke-width="0.7" fill="none"/>
<path d="M402.15 437.08L405.75 440.68L405.75 437.08L402.15 440.68Z" fill="#006400" fill-opacity="0.55" stroke="none"/><path d="M402.15 437.08L405.75 440.68M405.75 437.08L402.15 440.68" stroke="#006400" stroke-width="0.7" fill="none"/>
<path d="M110.70 309.66L113.43 311.19L116.16 312.74L118.90 314.32L121.63 315.92L124.36 317.54L127.09 319.17L129.83 320.82L132.56 322.48L135.29 324.15L138.02 325.82L140.75 327.51L143.49 329.19L146.22 330.88L148.95 332.57L151.68 334.25L154.41 335.93L157.15 337.60L159.88 339.26L162.61 340.91L165.34 342.55L168.08 344.17L170.81 345.77L173.54 347.35L176.27 348.91L179.00 350.45L181.74 351.95L184.47 353.43L187.20 354.88L189.93 356.30L192.66 357.68L195.40 359.02L198.13 360.32L200.86 361.59L203.59 362.81L206.33 364.01L209.06 365.19L211.79 366.38L214.52 367.57L217.25 368.79L219.99 370.01L222.72 371.26L225.45 372.51L228.18 373.78L230.91 375.05L233.65 376.34L236.38 377.63L239.11 378.93L241.84 380.23L244.57 381.54L247.31 382.85L250.04 384.16L252.77 385.48L255.50 386.79L258.24 388.09L260.97 389.40L263.70 390.70L266.43 391.99L269.16 393.28L271.90 394.56L274.63 395.82L277.36 397.08L280.09 398.32L282.83 399.56L285.56 400.78L288.29 401.99L291.02 403.19L293.75 404.38L296.49 405.56L299.22 406.73L301.95 407.89L304.68 409.04L307.41 410.19L310.15 411.32L312.88 412.45L315.61 413.57L318.34 414.68L321.07 415.78L323.81 416.88L326.54 417.98L329.27 419.06L332.00 420.14L334.74 421.22L337.47 422.29L340.20 423.36L342.93 424.42L345.66 425.48L348.40 426.53L351.13 427.58L353.86 428.63L356.59 429.67L359.33 430.72L362.06 431.76L364.79 432.80L367.52 433.83L370.25 434.87L372.99 435.91L375.72 436.94L378.45 437.98L381.18 439.02L383.91 440.05L386.65 441.09L389.38 442.13L392.11 443.17L394.84 444.21L397.57 445.26L400.31 446.31L403.04 447.36L405.77 448.41L408.50 449.47L411.24 450.53L413.97 451.60L416.70 452.67L419.43 453.74L422.16 454.82L424.90 455.91L427.63 457.00L430.36 458.10L433.09 459.21L435.82 460.32" fill="none" stroke="#0000ff" stroke-width="0.65"/>
<path d="M146.95 332.57L150.95 332.57M148.95 330.57L148.95 334.57" stroke="#0000ff" stroke-width="0.6" fill="none"/>
<path d="M210.70 366.77L214.70 366.77M212.70 364.77L212.70 368.77" stroke="#0000ff" stroke-width="0.6" fill="none"/>
<path d="M274.45 396.66L278.45 396.66M276.45 394.66L276.45 398.66" stroke="#0000ff" stroke-width="0.6" fill="none"/>
<path d="M338.20 423.36L342.20 423.36M340.20 421.36L340.20 425.36" stroke="#0000ff" stroke-width="0.6" fill="none"/>
<path d="M401.95 447.71L405.95 447.71M403.95 445.71L403.95 449.71" stroke="#0000ff" stroke-width="0.6" fill="none"/>
</g>
<path d="M170.00 418.45L176.60 418.45L176.60 411.85" stroke="#a020f0" stroke-width="1.0" fill="none"/><path d="M169.00 418.45L171.80 416.20L171.80 420.70Z" fill="#a020f0"/><path d="M176.60 410.85L174.35 413.65L178.85 413.65Z" fill="#a020f0"/>
<path d="M349.00 394.10L355.60 394.10L355.60 387.50" stroke="#ffa500" stroke-width="1.0" fill="none"/><path d="M348.00 394.10L350.80 391.85L350.80 396.35Z" fill="#ffa500"/><path d="M355.60 386.50L353.35 389.30L357.85 389.30Z" fill="#ffa500"/>
<rect x="59.70" y="309.67" width="408.00" height="144.33" fill="none" stroke="#111111" stroke-width="0.95"/>
<path d="M59.70 309.67v1.7M59.70 454.00v-1.7M72.45 309.67v1.7M72.45 454.00v-1.7M85.20 309.67v3.1M85.20 454.00v-3.1M97.95 309.67v1.7M97.95 454.00v-1.7M110.70 309.67v1.7M110.70 454.00v-1.7M123.45 309.67v1.7M123.45 454.00v-1.7M136.20 309.67v1.7M136.20 454.00v-1.7M148.95 309.67v3.1M148.95 454.00v-3.1M161.70 309.67v1.7M161.70 454.00v-1.7M174.45 309.67v1.7M174.45 454.00v-1.7M187.20 309.67v1.7M187.20 454.00v-1.7M199.95 309.67v1.7M199.95 454.00v-1.7M212.70 309.67v3.1M212.70 454.00v-3.1M225.45 309.67v1.7M225.45 454.00v-1.7M238.20 309.67v1.7M238.20 454.00v-1.7M250.95 309.67v1.7M250.95 454.00v-1.7M263.70 309.67v1.7M263.70 454.00v-1.7M276.45 309.67v3.1M276.45 454.00v-3.1M289.20 309.67v1.7M289.20 454.00v-1.7M301.95 309.67v1.7M301.95 454.00v-1.7M314.70 309.67v1.7M314.70 454.00v-1.7M327.45 309.67v1.7M327.45 454.00v-1.7M340.20 309.67v3.1M340.20 454.00v-3.1M352.95 309.67v1.7M352.95 454.00v-1.7M365.70 309.67v1.7M365.70 454.00v-1.7M378.45 309.67v1.7M378.45 454.00v-1.7M391.20 309.67v1.7M391.20 454.00v-1.7M403.95 309.67v3.1M403.95 454.00v-3.1M416.70 309.67v1.7M416.70 454.00v-1.7M429.45 309.67v1.7M429.45 454.00v-1.7M442.20 309.67v1.7M442.20 454.00v-1.7M454.95 309.67v1.7M454.95 454.00v-1.7M467.70 309.67v3.1M467.70 454.00v-3.1M59.70 454.00h8.0M467.70 454.00h-8.6M59.70 425.13h8.0M467.70 425.13h-8.6M59.70 396.27h8.0M467.70 396.27h-8.6M59.70 367.40h8.0M467.70 367.40h-8.6M59.70 338.54h8.0M467.70 338.54h-8.6M59.70 309.67h8.0M467.70 309.67h-8.6" stroke="#111111" stroke-width="0.9" fill="none"/>
<text x="55.2" y="453.90" font-size="15.3" text-anchor="end" fill="#000" stroke="#000" stroke-width="0.22">−2</text>
<text x="55.2" y="430.13" font-size="15.3" text-anchor="end" fill="#000" stroke="#000" stroke-width="0.22">−1</text>
<text x="55.2" y="401.27" font-size="15.3" text-anchor="end" fill="#000" stroke="#000" stroke-width="0.22">0</text>
<text x="55.2" y="372.40" font-size="15.3" text-anchor="end" fill="#000" stroke="#000" stroke-width="0.22">1</text>
<text x="55.2" y="343.54" font-size="15.3" text-anchor="end" fill="#000" stroke="#000" stroke-width="0.22">2</text>
<text x="55.2" y="319.37" font-size="15.3" text-anchor="end" fill="#000" stroke="#000" stroke-width="0.22">3</text>
<text transform="translate(27 381.84) rotate(-90)" font-size="15.4" text-anchor="middle" fill="#000" stroke="#000" stroke-width="0.22">log (Ionic Ratio)</text>
<text x="345.4" y="331.47" font-size="18.5" fill="#000" stroke="#000" stroke-width="0.22">log N<tspan font-size="10.8" dy="4.2">HI</tspan><tspan dy="-4.2"> = 18.2</tspan></text>
<text x="345.8" y="353.57" font-size="18.5" fill="#000" stroke="#000" stroke-width="0.22">[M/H] = −1.2</text>
<text x="345.4" y="374.77" font-size="18.5" fill="#000" stroke="#000" stroke-width="0.22">Subsystem C</text>
<text x="84.80" y="473.3" font-size="15.7" text-anchor="middle" fill="#000" stroke="#000" stroke-width="0.22">−4.0</text>
<text x="148.55" y="473.3" font-size="15.7" text-anchor="middle" fill="#000" stroke="#000" stroke-width="0.22">−3.5</text>
<text x="212.30" y="473.3" font-size="15.7" text-anchor="middle" fill="#000" stroke="#000" stroke-width="0.22">−3.0</text>
<text x="276.05" y="473.3" font-size="15.7" text-anchor="middle" fill="#000" stroke="#000" stroke-width="0.22">−2.5</text>
<text x="339.80" y="473.3" font-size="15.7" text-anchor="middle" fill="#000" stroke="#000" stroke-width="0.22">−2.0</text>
<text x="403.55" y="473.3" font-size="15.7" text-anchor="middle" fill="#000" stroke="#000" stroke-width="0.22">−1.5</text>
<text x="467.30" y="473.3" font-size="15.7" text-anchor="middle" fill="#000" stroke="#000" stroke-width="0.22">−1.0</text>
<text x="263.7" y="490" font-size="15.55" text-anchor="middle" fill="#000" stroke="#000" stroke-width="0.22">log U</text>
</svg>
</body></html>
